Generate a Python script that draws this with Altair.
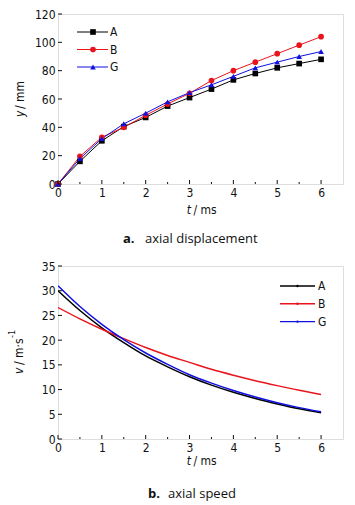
import altair as alt
import pandas as pd

# ---------------- data ----------------
series = ["A", "B", "G"]
colors = ["#000000", "#e8141b", "#1010e0"]
shapes = ["square", "circle", "triangle-up"]

t_top = [0, 0.5, 1, 1.5, 2, 2.5, 3, 3.5, 4, 4.5, 5, 5.5, 6]
y_A = [0, 16, 30.5, 40.5, 47, 55, 61, 67, 73.5, 78, 82, 85, 88]
y_B = [0, 19.5, 33, 40, 48.5, 56.5, 64, 73, 80, 86, 92, 98, 104]
y_G = [0, 18, 32, 42.5, 50, 58, 64.5, 70, 76, 82, 86, 90, 93.5]

t_bot = [0, 0.5, 1, 1.5, 2, 2.5, 3, 3.5, 4, 4.5, 5, 5.5, 6]
v_A = [30.0, 26.0, 22.5, 19.5, 16.8, 14.6, 12.6, 10.9, 9.45, 8.2, 7.1, 6.1, 5.3]
v_B = [26.6, 24.3, 22.2, 20.3, 18.5, 16.9, 15.5, 14.1, 12.9, 11.8, 10.8, 9.85, 9.0]
v_G = [31.0, 26.8, 23.2, 20.1, 17.4, 15.1, 13.0, 11.3, 9.8, 8.5, 7.35, 6.35, 5.5]

x_ticks = [0, 1, 2, 3, 4, 5, 6]
x_minor = [0.5, 1.5, 2.5, 3.5, 4.5, 5.5]
y_ticks_top = [0, 20, 40, 60, 80, 100, 120]
y_ticks_bot = [0, 5, 10, 15, 20, 25, 30, 35]

NUM_FONT = "DejaVu Sans Condensed, Liberation Sans, sans-serif"
CAP_FONT = "Open Sans"
W = 285
H1 = 170
H2 = 173

df_top = pd.DataFrame({
    "t": t_top * 3,
    "v": y_A + y_B + y_G,
    "s": ["A"] * len(t_top) + ["B"] * len(t_top) + ["G"] * len(t_top),
})
df_bot = pd.DataFrame({
    "t": t_bot * 3,
    "v": v_A + v_B + v_G,
    "s": ["A"] * len(t_bot) + ["B"] * len(t_bot) + ["G"] * len(t_bot),
})
one = pd.DataFrame({"d": [0]})

color_scale = alt.Scale(domain=series, range=colors)
shape_scale = alt.Scale(domain=series, range=shapes)


def text(txt, x, y, size=12, font=NUM_FONT, style="normal", weight="normal",
         align="center", angle=0):
    kw = dict(text=txt, fontSize=size, font=font, fontStyle=style,
              fontWeight=weight, align=align, baseline="middle", color="#111")
    if angle:
        kw["angle"] = angle
    return alt.Chart(one).mark_text(**kw).encode(x=alt.value(x), y=alt.value(y))


def panel(df, ydom, yticks, H, with_markers, legend_pos, ytitle_parts, caption_parts, ttl_y):
    xs = alt.Scale(domain=[0, 6.5], nice=False, zero=False)
    ys = alt.Scale(domain=ydom, nice=False)
    xax = alt.Axis(values=x_ticks, ticks=False, domain=False, grid=False, title=None,
                   labelFont=NUM_FONT, labelFontSize=12, labelPadding=3,
                   labelColor="#111", labelFlush=False, labelOverlap=False)
    yax = alt.Axis(values=yticks, ticks=False, domain=False, grid=False, title=None,
                   labelFont=NUM_FONT, labelFontSize=12, labelPadding=3,
                   labelColor="#111", labelFlush=False, labelOverlap=False)
    X = lambda f: alt.X(f, scale=xs, axis=xax)
    Y = lambda f: alt.Y(f, scale=ys, axis=yax)
    base = alt.Chart(df)
    if with_markers:
        lines = base.mark_line(strokeWidth=1.0, clip=True)
    else:
        lines = base.mark_line(strokeWidth=1.5, clip=True, interpolate="monotone")
    lines = lines.encode(
        x=X("t:Q"), y=Y("v:Q"),
        color=alt.Color("s:N", scale=color_scale, legend=None),
    )
    layers = [lines]
    if with_markers:
        pts = base.mark_point(filled=True, size=32, opacity=1).encode(
            x=X("t:Q"), y=Y("v:Q"),
            color=alt.Color("s:N", scale=color_scale, legend=None),
            shape=alt.Shape("s:N", scale=shape_scale, legend=None),
        )
        layers.append(pts)
    # inward ticks
    maj = alt.Chart(pd.DataFrame({"t": x_ticks})).mark_rule(color="#111").encode(
        x=X("t:Q"), y=alt.value(H), y2=alt.value(H - 4))
    mnr = alt.Chart(pd.DataFrame({"t": x_minor})).mark_rule(color="#111").encode(
        x=X("t:Q"), y=alt.value(H), y2=alt.value(H - 2))
    ytk = alt.Chart(pd.DataFrame({"v": yticks})).mark_rule(color="#111").encode(
        y=Y("v:Q"), x=alt.value(0), x2=alt.value(4))
    layers += [maj, mnr, ytk]
    # legend
    lx0, lx1, lmk, ltx, ly0, ldy = legend_pos
    for i, s in enumerate(series):
        yy = ly0 + ldy * i
        layers.append(alt.Chart(one).mark_rule(color=colors[i], strokeWidth=1.0 if with_markers else 1.4).encode(
            x=alt.value(lx0), x2=alt.value(lx1), y=alt.value(yy)))
        if with_markers:
            layers.append(alt.Chart(one).mark_point(filled=True, size=32, opacity=1,
                                                     shape=shapes[i], color=colors[i]).encode(
                x=alt.value(lmk), y=alt.value(yy)))
        else:
            layers.append(alt.Chart(one).mark_point(filled=True, size=6, opacity=1,
                                                     shape="circle", color=colors[i]).encode(
                x=alt.value(lmk), y=alt.value(yy)))
        layers.append(text(s, ltx, yy, size=12, align="left"))
    # x title
    layers.append(text("t", 133, ttl_y, style="italic", align="right"))
    layers.append(text("/ ms", 135.5, ttl_y, align="left"))
    # y title
    for (txt, x, y, size, style) in ytitle_parts:
        layers.append(text(txt, x, y, size=size, style=style, align="left", angle=270))
    # caption
    for (txt, x, y, weight) in caption_parts:
        layers.append(text(txt, x, y, size=13, font=CAP_FONT, weight=weight, align="left"))
    return alt.layer(*layers).properties(width=W, height=H)


top = panel(
    df_top, [0, 120], y_ticks_top, H1, True,
    (19, 50, 35, 52, 18, 17.5),
    [("y", -38, 103, 12, "italic"), ("/ mm", -38, 95, 12, "normal")],
    [("a.", 65, 224.5, "bold"), ("axial displacement", 87, 224.5, "normal")],
    196,
)
bot = panel(
    df_bot, [0, 35], y_ticks_bot, H2, False,
    (222, 257, 239.5, 260, 20, 17.8),
    [("v", -39.5, 108, 12, "italic"), ("/ m·s", -39.5, 99, 12, "normal"),
     ("-1", -46, 72, 9, "normal")],
    [("b.", 90, 227.5, "bold"), ("axial speed", 110, 227.5, "normal")],
    195,
)

chart = alt.vconcat(top, bot, spacing=13).properties(
    padding={"left": 7, "top": 7, "right": 5, "bottom": 5}
).configure_view(stroke="#111", strokeWidth=1).configure(background="white")

chart.save("out.html", embed_options={"renderer": "svg", "actions": False})
